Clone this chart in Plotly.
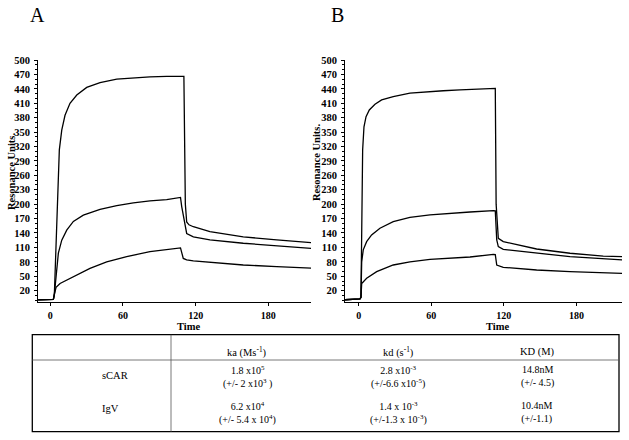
import plotly.graph_objects as go

# ---------------- data ----------------
a_top_t = [-10, 2.6, 3.4, 5.9, 7.5, 9.5, 12.2, 16.3, 21.9, 30.1, 41.1, 54.9, 68.6, 82.3, 96.1, 109.8, 110.3, 111.5, 112.6, 114.5, 118.1, 131.8, 159.3, 186.9, 216]
a_top_v = [1, 2, 12, 209, 313, 354, 385, 410, 427, 443, 453, 460, 463, 465, 466, 467, 466, 200, 163, 157, 153, 143, 132, 125.5, 120]

a_mid_t = [-10, 2.6, 3.4, 4.8, 6.7, 9.5, 13.6, 19.1, 27.3, 41.1, 54.9, 68.6, 82.3, 96.1, 105.7, 107.5, 108.5, 111.2, 112.6, 118.1, 131.8, 159.3, 186.9, 216]
a_mid_v = [1, 2, 12, 56, 98, 125, 146, 164, 177, 189, 197, 202.5, 207, 209.6, 213.5, 214, 195, 153, 139, 132, 125.5, 118.6, 113.6, 108]

a_bot_t = [-10, 2.6, 3.4, 4.8, 8.1, 13.6, 21.9, 32.8, 46.6, 63.1, 82.3, 104.4, 107.5, 109.8, 112.6, 118.1, 131.8, 159.3, 186.9, 216]
a_bot_v = [1, 2, 12, 27, 35, 42, 53, 66.5, 80, 91, 101, 108, 109, 87, 84, 82, 79, 73.4, 70, 66.6]

b_top_t = [-11.5, 1.0, 1.8, 2.4, 3.2, 4.3, 6.0, 8.7, 13.4, 18.9, 28.5, 42.3, 56.2, 69.9, 83.7, 97.5, 111.3, 112.9, 113.6, 115.4, 119.5, 133.3, 147.1, 174.7, 202.2, 219]
b_top_v = [1, 3, 6, 139, 313, 361, 382, 396, 408, 417, 424, 431, 434, 436, 438, 440, 441, 441, 200, 129, 122, 113.6, 106.7, 97.8, 92, 90.5]

b_mid_t = [-11.5, 1.0, 1.8, 2.4, 3.7, 6.5, 10.6, 17.5, 28.5, 42.3, 58.9, 75.4, 92, 111.3, 112.9, 114.1, 115.4, 119.5, 147.1, 174.7, 219]
b_mid_v = [1, 3, 6, 80, 105, 122, 136, 150, 163.6, 172.6, 177.5, 181, 183.7, 186.5, 186, 125.5, 111.5, 106, 97.8, 90.7, 84]

b_bot_t = [-11.5, 1.0, 1.8, 2.4, 6.5, 14.8, 28.5, 42.3, 58.9, 75.4, 92, 111.3, 112.9, 114.1, 119.5, 147.1, 174.7, 219]
b_bot_v = [1, 3, 6, 35, 45.7, 59.6, 73.4, 80, 85, 88, 90, 95.5, 95, 73.4, 68.6, 63, 59.6, 56]

y_ticks = [20, 50, 80, 110, 140, 170, 200, 230, 260, 290, 320, 350, 380, 410, 440, 470, 500]
x_ticks = [0, 60, 120, 180]

table_cols = ["ka (Ms<sup>-1</sup>)", "kd (s<sup>-1</sup>)", "KD (M)"]
table_rows = ["sCAR", "IgV"]
table_vals = [
    ["1.8 x10<sup>5</sup>", "2.8 x10<sup>-3</sup>", "14.8nM"],
    ["6.2 x10<sup>4</sup>", "1.4 x 10<sup>-3</sup>", "10.4nM"],
]
table_errs = [
    ["(+/- 2 x10<sup>3</sup> )", "(+/-6.6 x10<sup>-5</sup>)", "(+/- 4.5)"],
    ["(+/- 5.4 x 10<sup>4</sup>)", "(+/-1.3 x 10<sup>-3</sup>)", "(+/-1.1)"],
]

# ---------------- figure ----------------
W, H = 629, 440
def px(x):
    return x / W
def py(y):
    return 1 - y / H

SERIF = "Liberation Serif"
fig = go.Figure()
line = dict(color="black", width=1.3)
for t, v in [(a_top_t, a_top_v), (a_mid_t, a_mid_v), (a_bot_t, a_bot_v)]:
    fig.add_trace(go.Scatter(x=t, y=v, mode="lines", line=line, xaxis="x", yaxis="y", hoverinfo="skip"))
for t, v in [(b_top_t, b_top_v), (b_mid_t, b_mid_v), (b_bot_t, b_bot_v)]:
    fig.add_trace(go.Scatter(x=t, y=v, mode="lines", line=line, xaxis="x2", yaxis="y2", hoverinfo="skip"))

tickfont = dict(family=SERIF, size=10.5, color="black", weight="bold")
yax = dict(range=[-3, 500], domain=[py(301.7), py(60)], tickvals=y_ticks, showgrid=False, zeroline=False,
           showline=True, linecolor="black", linewidth=1, ticks="outside", ticklen=3, tickcolor="black",
           tickfont=tickfont, ticklabelstandoff=2, automargin=False,
           minor=dict(dtick=10, tick0=0, ticks="outside", ticklen=2, tickcolor="black"))
xax = dict(tickvals=x_ticks, showgrid=False, zeroline=False, showline=True, linecolor="black", linewidth=1,
           ticks="outside", ticklen=3, tickcolor="black", tickfont=dict(tickfont, size=10),
           automargin=False, ticklabelstandoff=1)

fig.update_layout(
    width=W, height=H, margin=dict(l=0, r=0, t=0, b=0, autoexpand=False),
    paper_bgcolor="white", plot_bgcolor="white", showlegend=False, hovermode=False,
    xaxis=dict(xax, domain=[px(38), px(311)], range=[-10.1, 215.2], anchor="y"),
    yaxis=dict(yax, anchor="x"),
    xaxis2=dict(xax, domain=[px(345), px(622)], range=[-11.4, 217.7], anchor="y2"),
    yaxis2=dict(yax, anchor="x2"),
)

ann = []
def text(x, y, s, size=11, bold=False, xanchor="center", angle=0, yanchor="middle"):
    ann.append(dict(x=px(x), y=py(y), xref="paper", yref="paper", text=("<b>%s</b>" % s) if bold else s,
                    showarrow=False, xanchor=xanchor, yanchor=yanchor, textangle=angle,
                    font=dict(family=SERIF, size=size, color="black")))

text(37, 14.5, "A", size=20)
text(337, 15, "B", size=20)
text(12, 172, "Resonance Units.", size=10.5, bold=True, angle=-90)
text(316, 162, "Resonance Units.", size=10.5, bold=True, angle=-90)
text(188, 326, "Time", size=10.5, bold=True)
text(497, 326, "Time", size=10.5, bold=True)

# table
col_x = [247, 398, 537]
for cx, c in zip(col_x, table_cols):
    text(cx, 351.5, c, size=10.5)
row_mid_y = [376.8, 412.5]
row_lbl_y = [375, 408]
for r, name in enumerate(table_rows):
    text(100, row_lbl_y[r], name, size=10.5, xanchor="left")
    for c in range(3):
        text(col_x[c], row_mid_y[r], table_vals[r][c] + "<br>" + table_errs[r][c], size=10)

fig.update_layout(annotations=ann)

shapes = [
    dict(type="rect", xref="paper", yref="paper", x0=px(32.3), x1=px(619), y0=py(431.7), y1=py(334.7),
         line=dict(color="black", width=1.3)),
    dict(type="line", xref="paper", yref="paper", x0=px(32.3), x1=px(619), y0=py(360), y1=py(360),
         line=dict(color="#555", width=0.8)),
    dict(type="line", xref="paper", yref="paper", x0=px(171), x1=px(171), y0=py(334.7), y1=py(431.7),
         line=dict(color="#555", width=0.8)),
]
fig.update_layout(shapes=shapes)

# remove the default 8px page margin so the figure fills the window exactly; no mode bar
fig.write_html("out.html", config={"displayModeBar": False},
               post_script="document.body.style.margin='0';")
